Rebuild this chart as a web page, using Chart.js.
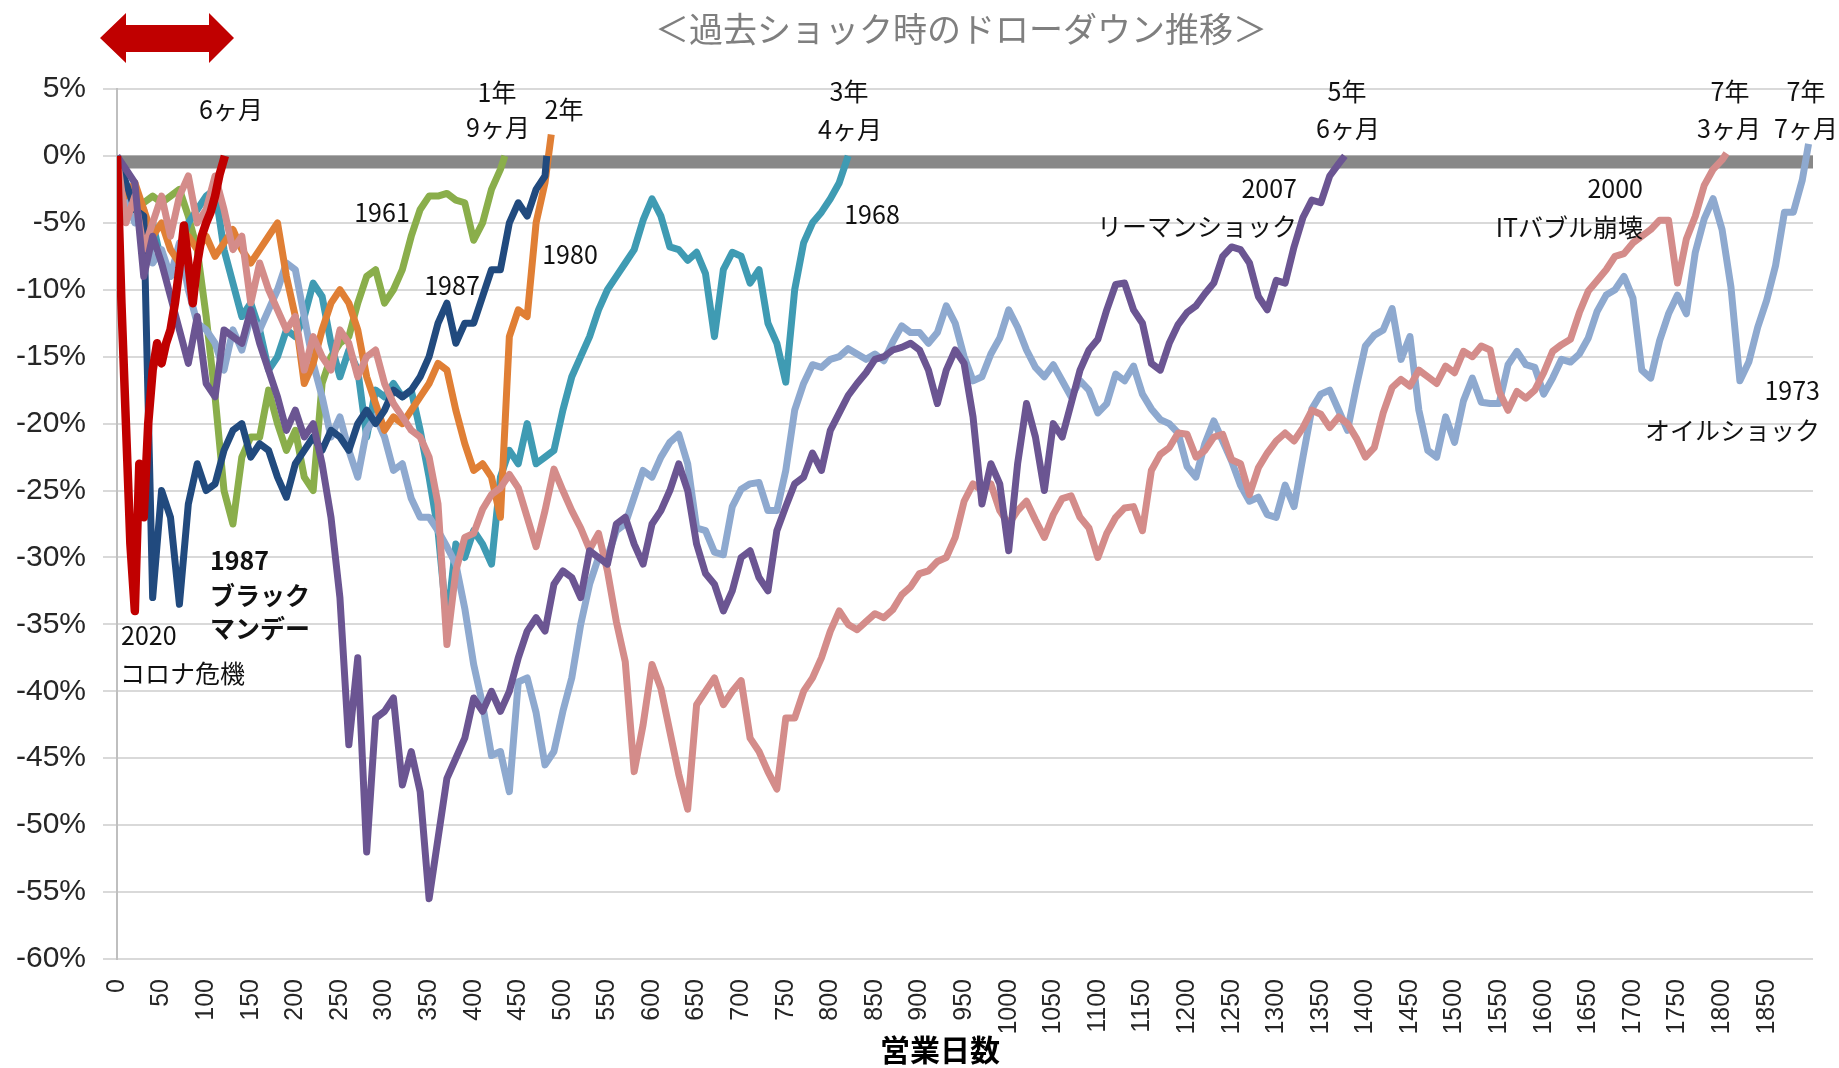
<!DOCTYPE html>
<html lang="ja">
<head>
<meta charset="utf-8">
<title>過去ショック時のドローダウン推移</title>
<script src="https://cdn.jsdelivr.net/npm/chart.js@4.4.1/dist/chart.umd.min.js"></script>
<style>
html, body { margin: 0; padding: 0; background: #fff; }
#caja { width: 1839px; height: 1068px; }
</style>
</head>
<body>
<div id="caja"><canvas id="miGrafica" width="1839" height="1068"></canvas></div>
<script>
// valores en %, cada 10 dias (2020: cada 5 dias); el ultimo valor es el dia de recuperacion
var v2020 = [
  0, -11, -20, -29, -34, -23, -27, -20, -16, -14,
  -15.5, -14, -13, -11, -8.4, -5.2, -8, -11, -8, -6,
  -5, -4.2, -3, -1.4, 0
];
var v2007 = [
  0, -1, -2, -9, -6, -8, -10.5, -13, -15.5, -12,
  -17, -18, -13, -13.5, -14, -11.5, -14, -16, -18, -20.5,
  -19, -21, -20, -23, -27, -33, -44, -37.5, -52, -42,
  -41.5, -40.5, -47, -44.5, -47.5, -55.5, -51, -46.5, -45, -43.5,
  -40.5, -41.5, -40, -41.5, -40, -37.5, -35.5, -34.5, -35.5, -32,
  -31, -31.5, -33, -29.5, -30, -30.5, -27.5, -27, -29, -30.5,
  -27.5, -26.5, -25, -23, -25, -29, -31.2, -32, -34, -32.5,
  -30, -29.5, -31.5, -32.5, -28, -26.2, -24.5, -24, -22.2, -23.5,
  -20.5, -19.2, -17.9, -17, -16.2, -15.2, -15, -14.5, -14.3, -14,
  -14.5, -16, -18.5, -16, -14.5, -15.5, -19.5, -26, -23, -24.5,
  -29.5, -23, -18.5, -21, -25, -20, -21, -18.5, -16, -14.5,
  -13.7, -11.5, -9.6, -9.5, -11.5, -12.5, -15.5, -16, -14, -12.6,
  -11.7, -11.2, -10.3, -9.5, -7.5, -6.8, -7, -8, -10.5, -11.5,
  -9.3, -9.5, -6.8, -4.6, -3.3, -3.5, -1.5, -0.6,
  0
];
var v2000 = [
  0, -5, -3, -7, -5, -3, -6, -3, -1.5, -5,
  -4, -1.5, -4, -7, -6, -11, -8, -10, -11.5, -13,
  -12, -16, -13.5, -15, -16, -13, -14, -16.5, -15, -14.5,
  -17, -18.5, -19.5, -20.5, -21, -22.5, -26, -36.5, -31, -28.5,
  -28.2, -26.4, -25.3, -24.8, -23.8, -24.8, -27, -29.2, -26.5, -23.4,
  -25, -26.5, -27.8, -29.4, -28.2, -31, -34.8, -37.8, -46, -42.5,
  -38, -39.8, -43, -46.2, -48.8, -41, -40, -39, -41, -40,
  -39.2, -43.5, -44.5, -46, -47.3, -42, -42, -40, -39, -37.5,
  -35.5, -34, -35, -35.4, -34.8, -34.2, -34.5, -33.9, -32.8, -32.2,
  -31.2, -31, -30.3, -30, -28.5, -25.8, -24.5, -25, -24.5, -26.5,
  -27.5, -26.5, -25.8, -27.2, -28.5, -26.8, -25.6, -25.4, -27, -27.8,
  -30, -28.2, -27, -26.3, -26.2, -28, -23.5, -22.3, -21.8, -20.7,
  -20.8, -22.5, -22, -21, -20.8, -22.7, -23, -25.3, -23.3, -22.2,
  -21.3, -20.7, -21.3, -20.3, -19, -19.3, -20.3, -19.5, -20, -21.1,
  -22.5, -21.8, -19.2, -17.3, -16.7, -17.2, -16, -16.5, -17, -15.7,
  -16.2, -14.6, -15, -14.2, -14.5, -17.6, -19, -17.6, -18.1, -17.5,
  -16.2, -14.6, -14.1, -13.7, -11.7, -10.1, -9.3, -8.5, -7.5, -7.3,
  -6.5, -6, -5.5, -4.8, -4.8, -9.5, -6.2, -4.5, -2.2, -1,
  -0.3,
  0.2
];
var v1987 = [
  0, -2, -4, -4.5, -33, -25, -27, -33.5, -26, -23,
  -25, -24.5, -22, -20.5, -20, -22.5, -21.5, -22, -24, -25.5,
  -23, -22, -21, -22, -20.5, -21, -22, -20, -19, -20,
  -19, -17.5, -18, -17.5, -16.5, -15, -12.5, -11, -14, -12.5,
  -12.5, -10.5, -8.5, -8.5, -5, -3.5, -4.5, -2.5, -1.5,
  0
];
var v1980 = [
  0, -3, -2, -4, -6, -5, -7, -8, -6, -7,
  -6, -7.5, -6.5, -5.5, -7, -8, -7, -6, -5, -9,
  -12, -17, -15.5, -13, -11, -10, -11, -13, -16.5, -18.5,
  -20.5, -19.5, -20, -19, -18, -17, -15.5, -16, -19, -21.5,
  -23.5, -23, -24, -27, -13.5, -11.5, -12, -5, -2,
  1.6
];
var v1973 = [
  0, -3, -5, -4, -8, -7, -9, -6.5, -10, -12.5,
  -13, -14, -16, -13, -14.5, -12, -13, -11.5, -10, -8,
  -8.5, -12, -15.5, -18, -21, -19.5, -22, -24, -20.5, -19.5,
  -21, -23.5, -23, -25.6, -27, -27, -28, -29.2, -30.5, -33.8,
  -38, -41, -44.8, -44.5, -47.5, -39.3, -39, -41.6, -45.5, -44.5,
  -41.5, -39, -35, -32, -30, -30, -28, -27.5, -25.5, -23.5,
  -24, -22.5, -21.4, -20.8, -23, -27.8, -28, -29.6, -29.8, -26.2,
  -24.9, -24.5, -24.4, -26.5, -26.5, -23.5, -19, -17, -15.6, -15.8,
  -15.2, -15, -14.4, -14.8, -15.2, -14.8, -15.3, -13.9, -12.7, -13.2,
  -13.2, -14, -13.2, -11.2, -12.5, -15, -16.8, -16.5, -14.8, -13.6,
  -11.5, -12.8, -14.5, -15.8, -16.5, -15.6, -16.8, -18, -16.8, -17.5,
  -19.2, -18.5, -16.3, -16.8, -15.7, -17.8, -18.9, -19.7, -20, -20.7,
  -23.2, -24, -21.5, -19.8, -21.3, -22.8, -24.6, -25.8, -25.5, -26.8,
  -27, -24.6, -26.2, -22.5, -18.9, -17.8, -17.5, -19, -20.5, -17.2,
  -14.2, -13.4, -13, -11.4, -15.2, -13.5, -19, -22, -22.5, -19.5,
  -21.4, -18.3, -16.6, -18.4, -18.5, -18.5, -15.6, -14.6, -15.6, -15.8,
  -17.8, -16.6, -15.2, -15.4, -14.8, -13.6, -11.6, -10.4, -10, -9,
  -10.6, -16, -16.6, -13.8, -11.8, -10.4, -11.8, -7.2, -4.7, -3.2,
  -5.5, -9.8, -16.8, -15.4, -12.8, -10.8, -8.2, -4.2, -4.2, -1.8,
  0.9
];
var v1968 = [
  0, -4, -3, -6, -5, -8, -9, -7, -5, -4,
  -3, -2.5, -7, -9.5, -12, -11, -13, -16, -15, -13,
  -13.5, -12, -9.5, -10.5, -14, -16.5, -14.5, -16, -21, -17.5,
  -18, -17, -18, -17.5, -20.5, -24, -28, -35, -29, -30,
  -28, -29, -30.5, -24, -22, -23, -20, -23, -22.5, -22,
  -19, -16.5, -15, -13.5, -11.5, -10, -9, -8, -7, -4.8,
  -3.2, -4.5, -6.8, -7, -7.8, -7.2, -8.8, -13.5, -8.5, -7.2,
  -7.5, -9.5, -8.5, -12.5, -14, -16.9, -10, -6.5, -5, -4.2,
  -3.2, -2, 0
];
var v1961 = [
  0, -3, -4, -3.5, -3, -3.5, -3, -2.5, -4.5, -7,
  -12, -18, -25, -27.5, -22.5, -21, -21, -17.5, -20, -22,
  -20.5, -24, -25, -17, -15, -14, -13.5, -11, -9, -8.5,
  -11, -10, -8.5, -6, -4, -3, -3, -2.8, -3.3, -3.5,
  -6.3, -5, -2.5, -1,
  0
];

var nombres = ["2020", "2007", "2000", "1987", "1980", "1973", "1968", "1961"];
var valores = [v2020, v2007, v2000, v1987, v1980, v1973, v1968, v1961];
var pasos = [5, 10, 10, 10, 10, 10, 10, 10];
var diasFin = [121, 1377, 1805, 482, 487, 1897, 820, 435];
var colores = ["#c00000", "#6b5592", "#d48c8a", "#214a7e", "#e07f35", "#8ea9cf", "#3f9bb3", "#8aae4b"];
var diaMax = 1902;
var ultimoTick = 1850;
var lineaBase = -0.45;

var notas = [
  {t: "6ヶ月", x: 231, y: 109, a: "center"},
  {t: "1年", x: 497, y: 92, a: "center"},
  {t: "9ヶ月", x: 498, y: 127, a: "center"},
  {t: "2年", x: 564, y: 109, a: "center"},
  {t: "3年", x: 849, y: 91, a: "center"},
  {t: "4ヶ月", x: 850, y: 129, a: "center"},
  {t: "5年", x: 1347, y: 91, a: "center"},
  {t: "6ヶ月", x: 1348, y: 128, a: "center"},
  {t: "7年", x: 1730, y: 91, a: "center"},
  {t: "3ヶ月", x: 1729, y: 128, a: "center"},
  {t: "7年", x: 1806, y: 91, a: "center"},
  {t: "7ヶ月", x: 1806, y: 128, a: "center"},
  {t: "1961", x: 382, y: 212, a: "center"},
  {t: "1987", x: 452, y: 285, a: "center"},
  {t: "1980", x: 570, y: 254, a: "center"},
  {t: "1968", x: 872, y: 214, a: "center"},
  {t: "2007", x: 1297, y: 188, a: "right"},
  {t: "リーマンショック", x: 1297, y: 226, a: "right"},
  {t: "2000", x: 1643, y: 188, a: "right"},
  {t: "ITバブル崩壊", x: 1643, y: 227, a: "right"},
  {t: "1973", x: 1820, y: 390, a: "right"},
  {t: "オイルショック", x: 1820, y: 430, a: "right"},
  {t: "2020", x: 121, y: 635, a: "left"},
  {t: "コロナ危機", x: 120, y: 673, a: "left"},
  {t: "1987", x: 210, y: 560, a: "left", b: true},
  {t: "ブラック", x: 210, y: 595, a: "left", b: true},
  {t: "マンデー", x: 210, y: 628, a: "left", b: true}
];

document.addEventListener("DOMContentLoaded", function(){
    graficaDrawdown();
});

function puntos(lista, paso, fin){
    return lista.map(function(v, i){
        return {x: i === lista.length - 1 ? fin : i * paso, y: v};
    });
}

var textos = {
    id: "textos",
    afterDraw: function(chart){
        var ctx = chart.ctx;
        ctx.save();
        // titulo
        ctx.fillStyle = "#7f7f7f";
        ctx.font = "34px 'Noto Sans CJK JP'";
        ctx.textAlign = "center";
        ctx.textBaseline = "middle";
        ctx.fillText("＜過去ショック時のドローダウン推移＞", 961, 29);

        // flecha roja
        ctx.fillStyle = "#c00000";
        ctx.beginPath();
        ctx.moveTo(100, 38);
        ctx.lineTo(126, 13);
        ctx.lineTo(126, 25);
        ctx.lineTo(209, 25);
        ctx.lineTo(209, 13);
        ctx.lineTo(234, 38);
        ctx.lineTo(209, 63);
        ctx.lineTo(209, 52);
        ctx.lineTo(126, 52);
        ctx.lineTo(126, 63);
        ctx.closePath();
        ctx.fill();

        notas.forEach(function(n){
            ctx.fillStyle = "#111";
            ctx.font = (n.b ? "bold 25px " : "25px ") + "'Noto Sans CJK JP'";
            ctx.textAlign = n.a;
            ctx.fillText(n.t, n.x, n.y);
        });

        ctx.fillStyle = "#000";
        ctx.font = "bold 30px 'Noto Sans CJK JP'";
        ctx.textAlign = "center";
        ctx.fillText("営業日数", 940, 1050);
        ctx.restore();
    }
};

function graficaDrawdown(){
    let miCanvas = document.getElementById("miGrafica").getContext("2d");

    var datasets = nombres.map(function(nom, i){
        return {
            label: nom,
            data: puntos(valores[i], pasos[i], diasFin[i]),
            borderColor: colores[i],
            backgroundColor: colores[i],
            borderWidth: i === 0 ? 8.5 : 7,
            fill: false
        };
    });
    datasets.push({
        label: "0%",
        data: [{x: 0, y: lineaBase}, {x: diaMax, y: lineaBase}],
        borderColor: "#888888",
        backgroundColor: "#888888",
        borderWidth: 13,
        borderCapStyle: "butt",
        fill: false
    });

    Chart.defaults.font.family = "'Liberation Sans', 'Noto Sans CJK JP', sans-serif";

    var chart = new Chart(miCanvas, {
        type: "line",
        data: {datasets: datasets},
        options: {
            responsive: false,
            animation: false,
            devicePixelRatio: 1,
            layout: {padding: {top: 89, right: 26, bottom: 0, left: 0}},
            plugins: {legend: {display: false}, tooltip: {enabled: false}},
            elements: {
                point: {radius: 0},
                line: {tension: 0, borderJoinStyle: "round"}
            },
            scales: {
                x: {
                    type: "linear",
                    min: 0,
                    max: diaMax,
                    grid: {display: false, drawTicks: false},
                    border: {display: false},
                    ticks: {
                        stepSize: 50,
                        autoSkip: false,
                        minRotation: 90,
                        maxRotation: 90,
                        padding: 20,
                        color: "#262626",
                        font: {size: 25},
                        callback: function(v){ return String(Math.round(v)); }
                    },
                    afterBuildTicks: function(s){
                        var lista = [];
                        for (var d = 0; d <= ultimoTick; d += 50) {
                            lista.push({value: d});
                        }
                        s.ticks = lista;
                    },
                    afterFit: function(s){ s.height = 109; }
                },
                y: {
                    min: -60,
                    max: 5,
                    ticks: {
                        stepSize: 5,
                        padding: 17,
                        color: "#262626",
                        font: {size: 30},
                        callback: function(v){ return v + "%"; }
                    },
                    grid: {color: "#d9d9d9", lineWidth: 2, tickLength: 14},
                    border: {color: "#bfbfbf", width: 2},
                    afterFit: function(s){ s.width = 117; }
                }
            }
        },
        plugins: [textos]
    });
}
</script>
</body>
</html>
